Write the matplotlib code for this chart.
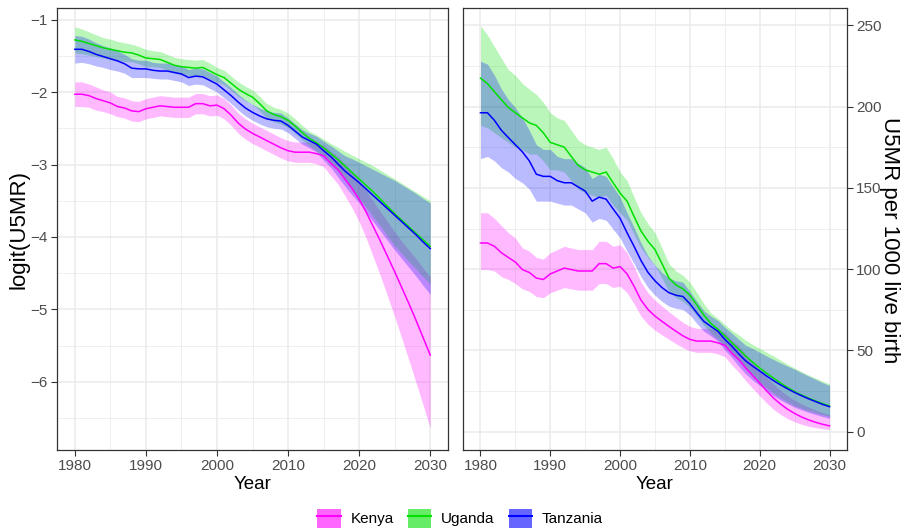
import numpy as np
import matplotlib.pyplot as plt
from matplotlib.patches import Patch
from matplotlib.lines import Line2D
from matplotlib.legend_handler import HandlerTuple

plt.rcParams['font.family'] = ['Liberation Sans', 'DejaVu Sans']

# years of the estimates / projections
years = list(range(1980, 2031))

# logit(U5MR) (median, lower, upper)
kenya_mid = [-2.03, -2.03, -2.05, -2.09, -2.12, -2.15, -2.20, -2.22, -2.26, -2.27,
             -2.23, -2.21, -2.19, -2.20, -2.21, -2.21, -2.21, -2.16, -2.16, -2.19,
             -2.18, -2.23, -2.32, -2.43, -2.51, -2.57, -2.62, -2.67, -2.72, -2.77,
             -2.81, -2.83, -2.83, -2.83, -2.85, -2.88, -2.98, -3.07, -3.20, -3.33,
             -3.48, -3.66, -3.86, -4.06, -4.27, -4.48, -4.70, -4.92, -5.15, -5.39,
             -5.63]
kenya_lo = [-2.20, -2.20, -2.21, -2.25, -2.27, -2.30, -2.34, -2.36, -2.40, -2.41,
            -2.37, -2.35, -2.33, -2.34, -2.35, -2.35, -2.35, -2.30, -2.30, -2.33,
            -2.32, -2.37, -2.46, -2.57, -2.65, -2.71, -2.76, -2.81, -2.86, -2.91,
            -2.95, -2.97, -2.97, -2.97, -2.99, -3.03, -3.15, -3.27, -3.43, -3.60,
            -3.79, -4.02, -4.28, -4.54, -4.82, -5.10, -5.40, -5.70, -6.01, -6.32,
            -6.64]
kenya_hi = [-1.86, -1.86, -1.89, -1.93, -1.97, -2.00, -2.06, -2.08, -2.12, -2.13,
            -2.09, -2.07, -2.05, -2.06, -2.07, -2.07, -2.07, -2.02, -2.02, -2.05,
            -2.04, -2.09, -2.18, -2.29, -2.37, -2.43, -2.48, -2.53, -2.58, -2.63,
            -2.67, -2.69, -2.69, -2.69, -2.71, -2.73, -2.82, -2.89, -3.00, -3.11,
            -3.23, -3.36, -3.51, -3.65, -3.79, -3.93, -4.06, -4.18, -4.30, -4.43,
            -4.55]

uganda_mid = [-1.28, -1.30, -1.33, -1.36, -1.39, -1.41, -1.43, -1.45, -1.46, -1.49,
              -1.53, -1.54, -1.55, -1.59, -1.63, -1.65, -1.66, -1.67, -1.66, -1.71,
              -1.76, -1.80, -1.88, -1.96, -2.02, -2.07, -2.16, -2.26, -2.31, -2.34,
              -2.39, -2.47, -2.56, -2.64, -2.70, -2.77, -2.85, -2.93, -3.02, -3.11,
              -3.20, -3.29, -3.38, -3.48, -3.58, -3.68, -3.77, -3.86, -3.95, -4.04,
              -4.13]
uganda_lo = [-1.46, -1.47, -1.49, -1.51, -1.53, -1.55, -1.56, -1.58, -1.58, -1.61,
             -1.65, -1.65, -1.66, -1.70, -1.74, -1.76, -1.77, -1.78, -1.77, -1.82,
             -1.86, -1.90, -1.98, -2.06, -2.12, -2.17, -2.26, -2.36, -2.41, -2.44,
             -2.49, -2.57, -2.66, -2.74, -2.81, -2.89, -2.99, -3.09, -3.21, -3.34,
             -3.47, -3.59, -3.72, -3.85, -3.99, -4.12, -4.23, -4.34, -4.44, -4.55,
             -4.65]
uganda_hi = [-1.10, -1.13, -1.17, -1.21, -1.25, -1.27, -1.30, -1.32, -1.34, -1.37,
             -1.41, -1.43, -1.44, -1.48, -1.52, -1.54, -1.55, -1.56, -1.55, -1.60,
             -1.66, -1.70, -1.78, -1.86, -1.92, -1.97, -2.06, -2.16, -2.21, -2.24,
             -2.29, -2.37, -2.46, -2.54, -2.59, -2.65, -2.71, -2.76, -2.82, -2.87,
             -2.92, -2.97, -3.02, -3.08, -3.14, -3.20, -3.26, -3.32, -3.38, -3.44,
             -3.50]

tanzania_mid = [-1.41, -1.41, -1.44, -1.48, -1.51, -1.54, -1.57, -1.61, -1.67, -1.68,
                -1.68, -1.70, -1.71, -1.71, -1.73, -1.75, -1.80, -1.78, -1.79, -1.84,
                -1.89, -1.97, -2.05, -2.14, -2.22, -2.28, -2.33, -2.37, -2.39, -2.40,
                -2.46, -2.54, -2.62, -2.67, -2.72, -2.81, -2.89, -2.99, -3.09, -3.17,
                -3.25, -3.34, -3.43, -3.52, -3.61, -3.70, -3.79, -3.88, -3.97, -4.07,
                -4.16]
tanzania_lo = [-1.60, -1.59, -1.61, -1.64, -1.66, -1.69, -1.71, -1.74, -1.80, -1.80,
               -1.80, -1.81, -1.82, -1.82, -1.84, -1.86, -1.91, -1.89, -1.90, -1.95,
               -2.00, -2.08, -2.16, -2.25, -2.33, -2.39, -2.44, -2.48, -2.50, -2.51,
               -2.56, -2.64, -2.72, -2.77, -2.83, -2.94, -3.04, -3.17, -3.30, -3.42,
               -3.53, -3.66, -3.79, -3.92, -4.05, -4.18, -4.30, -4.42, -4.54, -4.67,
               -4.79]
tanzania_hi = [-1.22, -1.23, -1.27, -1.32, -1.36, -1.39, -1.43, -1.48, -1.54, -1.56,
               -1.56, -1.59, -1.60, -1.60, -1.62, -1.64, -1.69, -1.67, -1.68, -1.73,
               -1.78, -1.86, -1.94, -2.03, -2.11, -2.17, -2.22, -2.26, -2.28, -2.29,
               -2.36, -2.44, -2.52, -2.57, -2.61, -2.68, -2.74, -2.81, -2.88, -2.92,
               -2.97, -3.02, -3.07, -3.12, -3.17, -3.22, -3.28, -3.34, -3.40, -3.47,
               -3.53]

countries = ['Kenya', 'Uganda', 'Tanzania']
colors = ['#FF00FF', '#00E000', '#0000FF']
mids = [kenya_mid, uganda_mid, tanzania_mid]
los = [kenya_lo, uganda_lo, tanzania_lo]
his = [kenya_hi, uganda_hi, tanzania_hi]


def per1000(v):
    # back from logit scale to deaths per 1000 live births
    return 1000.0 / (1.0 + np.exp(-np.array(v)))


def draw(ax, tf):
    for c, lo, hi in zip(colors, los, his):
        ax.fill_between(years, tf(lo), tf(hi), color=c, alpha=0.27, lw=0)
    for c, m in zip(colors, mids):
        ax.plot(years, tf(m), color=c, lw=1.1)
    ax.set_xlim(1977.5, 2032.5)
    ax.set_xticks([1980, 1990, 2000, 2010, 2020, 2030])
    ax.set_xticks([1985, 1995, 2005, 2015, 2025], minor=True)
    ax.grid(which='major', color='#EBEBEB', lw=1.1)
    ax.grid(which='minor', color='#EBEBEB', lw=0.55)
    ax.set_axisbelow(True)
    for s in ax.spines.values():
        s.set_color('#333333')
        s.set_linewidth(0.9)
    ax.tick_params(which='major', length=4, width=0.8, color='#333333',
                   labelcolor='#4D4D4D', labelsize=11, pad=2.5)
    ax.tick_params(which='minor', length=0)
    ax.set_xlabel('Year', fontsize=13.5, labelpad=2)


fig = plt.figure(figsize=(9.04, 5.30), dpi=100)
ax1 = fig.add_axes([0.0631, 0.1509, 0.4325, 0.834])
ax2 = fig.add_axes([0.5122, 0.1509, 0.4247, 0.834])

draw(ax1, lambda v: np.array(v))
ax1.set_ylim(-6.94, -0.84)
ax1.set_yticks([-6, -5, -4, -3, -2, -1])
ax1.set_yticks([-6.5, -5.5, -4.5, -3.5, -2.5, -1.5], minor=True)
ax1.set_ylabel('logit(U5MR)', fontsize=16, labelpad=1)

draw(ax2, per1000)
ax2.set_ylim(-11.3, 260.7)
ax2.set_yticks([0, 50, 100, 150, 200, 250])
ax2.set_yticks([25, 75, 125, 175, 225], minor=True)
ax2.yaxis.tick_right()
ax2.set_ylabel('U5MR per 1000 live birth', fontsize=16, rotation=-90,
               va='center', ha='center')
ax2.yaxis.set_label_coords(1.112, 0.475)

handles = [(Patch(facecolor=c, alpha=0.6, lw=0), Line2D([], [], color=c, lw=1.5)) for c in colors]
fig.legend(handles, countries, loc='center', bbox_to_anchor=(0.509, 0.022), ncol=3,
           frameon=False, fontsize=11, handlelength=1.55, handleheight=1.55,
           handletextpad=0.65, columnspacing=0.9,
           handler_map={tuple: HandlerTuple(ndivide=1, pad=0)})

plt.savefig('out.png', dpi=100)
